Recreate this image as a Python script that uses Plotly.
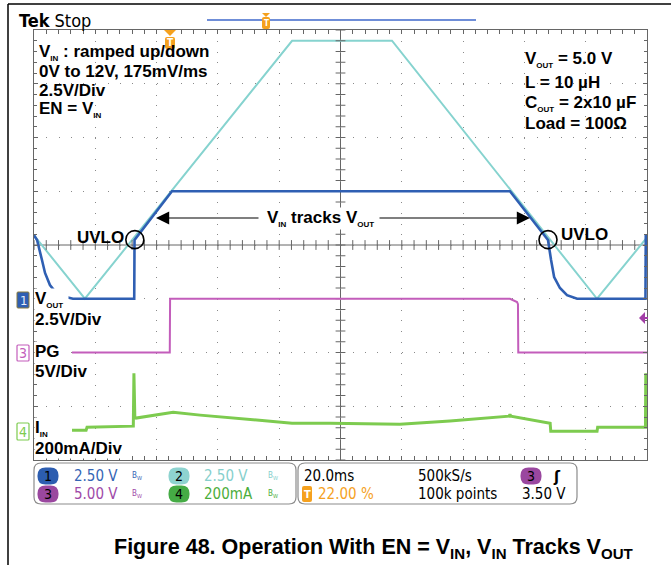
import numpy as np
import plotly.graph_objects as go

# scope settings: 20 ms/div, 10 divisions across, 8 down
t_div = 20.0

# ch2 VIN (V), ramped up/down
vin_t = [0, 16.6, 84.2, 116.8, 183.7, 200]
vin_v = [2.95, 0.0, 12.0, 12.0, 0.0, 2.85]

# ch1 VOUT (V)
vout_t = [0, 1.0, 2.6, 3.6, 5.2, 7.8, 12.7, 32.7, 32.8, 45.0, 155.3, 167.7,
          168.7, 169.7, 171.6, 173.9, 177.2, 199.5, 199.6, 200]
vout_v = [2.95, 2.73, 1.80, 1.20, 0.64, 0.17, 0.0, 0.0, 2.73, 5.0, 5.0, 2.73,
          1.80, 1.01, 0.50, 0.17, 0.0, 0.0, 2.9, 2.9]

# ch3 PG (V)
pg_t = [12.4, 44.3, 44.4, 155.3, 157.6, 157.9, 158.0, 200]
pg_v = [0, 0, 5.0, 5.0, 4.7, 4.5, 0, 0]

# ch4 IIN (mA)
iin_t = [12.4, 17.0, 17.3, 32.4, 32.6, 32.9, 33.3, 45.4, 54.2, 70.5, 84.2,
         96.6, 119.4, 135.7, 155.0, 155.3, 155.6, 168.4, 168.6, 183.7, 183.9,
         199.5, 199.6]
iin_v = [11, 11, 22, 26, 223, 60, 56, 78, 67, 52, 37,
         37, 33, 45, 63, 70, 63, 37, 7, 7, 22,
         22, 223]

uvlo_t = [32.9, 167.7]
uvlo_v = 2.75

W, H = 671, 565
GX0, GX1, GY0, GY1 = 34, 647, 30, 460


def px(x):
    return x / W


def py(y):
    return 1 - y / H


def rrect(x0, y0, x1, y1, r):
    a, b, c, d = px(x0), px(x1), py(y0), py(y1)
    rx, ry = r / W, r / H
    return (f"M{a+rx},{c} L{b-rx},{c} Q{b},{c} {b},{c-ry} L{b},{d+ry} "
            f"Q{b},{d} {b-rx},{d} L{a+rx},{d} Q{a},{d} {a},{d+ry} "
            f"L{a},{c-ry} Q{a},{c} {a+rx},{c} Z")


BLUE = "#2f5fb3"
CYAN = "#86d3cf"
MAG = "#c35dbb"
GRN = "#7dcb4f"
ORG = "#f5a11e"
GRAT = "#666666"

fig = go.Figure()

fig.add_trace(go.Scatter(x=vin_t, y=vin_v, mode="lines", yaxis="y",
                         line=dict(color=CYAN, width=2)))
fig.add_trace(go.Scatter(x=vout_t, y=vout_v, mode="lines", yaxis="y2",
                         line=dict(color=BLUE, width=2.6)))
fig.add_trace(go.Scatter(x=pg_t, y=pg_v, mode="lines", yaxis="y3",
                         line=dict(color=MAG, width=2)))
fig.add_trace(go.Scatter(x=iin_t, y=iin_v, mode="lines", yaxis="y4",
                         line=dict(color=GRN, width=3)))

# centre-line ticks of the graticule (centre is 2.5 V on the ch1 scale)
fig.add_trace(go.Scatter(x=np.arange(0, 200.1, t_div / 5), y=[2.5] * 51,
                         mode="markers", yaxis="y", hoverinfo="skip",
                         marker=dict(symbol="line-ns", size=7,
                                     line=dict(color=GRAT, width=1))))
fig.add_trace(go.Scatter(x=[100.0] * 41, y=np.arange(-7.5, 12.6, 0.5),
                         mode="markers", yaxis="y", hoverinfo="skip",
                         marker=dict(symbol="line-ew", size=7,
                                     line=dict(color=GRAT, width=1))))

shapes = []
# centre cross
shapes.append(dict(type="line", xref="x", yref="paper", x0=100, x1=100,
                   y0=py(GY1), y1=py(GY0), line=dict(color=GRAT, width=1),
                   layer="below"))
shapes.append(dict(type="line", xref="paper", yref="y", x0=px(GX0),
                   x1=px(GX1), y0=2.5, y1=2.5, line=dict(color=GRAT, width=1),
                   layer="below"))
# UVLO circles
for t in uvlo_t:
    shapes.append(dict(type="circle", xref="x", yref="y2", xsizemode="pixel",
                       ysizemode="pixel", xanchor=t, yanchor=uvlo_v,
                       x0=-9, x1=9, y0=-9, y1=9,
                       line=dict(color="black", width=1.6)))
# outer frame
shapes.append(dict(type="line", xref="paper", yref="paper", x0=px(8), x1=1,
                   y0=py(4), y1=py(4), line=dict(color="black", width=1.5)))
shapes.append(dict(type="line", xref="paper", yref="paper", x0=px(8),
                   x1=px(8), y0=py(4), y1=0,
                   line=dict(color="black", width=1.5)))
# top record bar and markers
shapes.append(dict(type="line", xref="paper", yref="paper", x0=px(207),
                   x1=px(476), y0=py(20), y1=py(20),
                   line=dict(color="#6f8ed8", width=2)))
shapes.append(dict(type="path", xref="paper", yref="paper",
                   path=f"M{px(262)},{py(13)} L{px(270)},{py(13)} L{px(266)},{py(17)} Z",
                   fillcolor=ORG, line=dict(width=0)))
shapes.append(dict(type="path", xref="paper", yref="paper",
                   path=rrect(262, 17, 270, 29, 2), fillcolor=ORG,
                   line=dict(width=0)))
shapes.append(dict(type="path", xref="paper", yref="paper",
                   path=f"M{px(164)},{py(30)} L{px(176)},{py(30)} L{px(170)},{py(36)} Z",
                   fillcolor=ORG, line=dict(width=0)))
shapes.append(dict(type="path", xref="paper", yref="paper",
                   path=rrect(165, 37, 175, 49, 2), fillcolor=ORG,
                   line=dict(width=0)))
# trigger level arrow on the right
shapes.append(dict(type="path", xref="paper", yref="paper",
                   path=f"M{px(639)},{py(318)} L{px(645)},{py(312)} L{px(645)},{py(324)} Z",
                   fillcolor="#a33fa8", line=dict(width=0)))
shapes.append(dict(type="line", xref="paper", yref="paper", x0=px(644),
                   x1=px(648), y0=py(318), y1=py(318),
                   line=dict(color="#a33fa8", width=2)))
# channel markers on the left
shapes.append(dict(type="path", xref="paper", yref="paper",
                   path=rrect(17, 292, 29, 308, 1), fillcolor=BLUE,
                   line=dict(color="#8a7a3a", width=1)))
shapes.append(dict(type="path", xref="paper", yref="paper",
                   path=rrect(17, 345, 29, 361, 1), fillcolor="white",
                   line=dict(color=MAG, width=1.2)))
shapes.append(dict(type="path", xref="paper", yref="paper",
                   path=rrect(17, 423, 29, 440, 1), fillcolor="white",
                   line=dict(color=GRN, width=1.2)))
# status boxes
shapes.append(dict(type="path", xref="paper", yref="paper",
                   path=rrect(34, 463, 296, 504, 7), fillcolor="white",
                   line=dict(color="#8c8c8c", width=1.2)))
shapes.append(dict(type="path", xref="paper", yref="paper",
                   path=rrect(298, 463, 577, 504, 7), fillcolor="white",
                   line=dict(color="#8c8c8c", width=1.2)))
for cx, cy, col in [(48, 476, "#2c5db0"), (48, 494, "#9a479f"),
                    (179, 476, "#8ed3d0"), (179, 494, "#45ab45"),
                    (531, 476, "#9a479f")]:
    shapes.append(dict(type="path", xref="paper", yref="paper",
                       path=rrect(cx - 10.5, cy - 8.5, cx + 10.5, cy + 8.5, 8),
                       fillcolor=col, line=dict(width=0)))
shapes.append(dict(type="path", xref="paper", yref="paper",
                   path=rrect(302, 486, 312, 502, 2), fillcolor=ORG,
                   line=dict(width=0)))

ann = []
BF = "Liberation Sans, Arial, sans-serif"
NF = "Liberation Sans Narrow, DejaVu Sans Condensed, Arial Narrow, sans-serif"
SUB = "<sub><span style='font-size:8px'>{}</span></sub>"


def txt(x, y, s, size=15, color="black", family=BF, weight="bold",
        xanchor="left", bg=None):
    d = dict(x=px(x), y=py(y), xref="paper", yref="paper", text=s,
             showarrow=False, xanchor=xanchor, yanchor="middle",
             font=dict(family=family, size=size, color=color, weight=weight))
    if bg:
        d["bgcolor"] = bg
        d["borderpad"] = 0
    ann.append(d)


txt(37, 52, "V" + SUB.format("IN") + " : ramped up/down", 17)
txt(37, 71, "0V to 12V, 175mV/ms", 17)
txt(37, 91, "2.5V/Div", 17)
txt(37, 110, "EN = V" + SUB.format("IN"), 17)

txt(523, 60, "V" + SUB.format("OUT") + " = 5.0 V", 17)
txt(523, 82, "L = 10 \u00b5H", 17)
txt(523, 103, "C" + SUB.format("OUT") + " = 2x10 \u00b5F", 17)
txt(523, 124, "Load = 100\u03a9", 17)

txt(75, 237, "UVLO", 17)
txt(559, 234, "UVLO", 17)
txt(266, 218, "V" + SUB.format("IN") + " tracks V" + SUB.format("OUT"), 17,
    bg="white")

txt(34, 299, "V" + SUB.format("OUT") + " ", 17, bg="white")
txt(34, 319, "2.5V/Div", 17, bg="white")
txt(34, 351, "PG  ", 17, bg="white")
txt(34, 371, "5V/Div", 17, bg="white")
txt(34, 428, "I" + SUB.format("IN") + "     ", 17, bg="white")
txt(34, 448, "200mA/Div", 17, bg="white")

txt(23, 300, "1", 13, "#e8eef8", NF, "normal", "center")
txt(23, 353, "3", 14, MAG, NF, "normal", "center")
txt(23, 432, "4", 14, GRN, NF, "normal", "center")

# arrows
for tip, tail in [(156, 260), (530, 378)]:
    ann.append(dict(x=px(tip), y=py(218), xref="paper", yref="paper",
                    ax=tail - tip, ay=0, text="", showarrow=True,
                    arrowhead=2, arrowsize=2.2, arrowwidth=1.2,
                    arrowcolor="black"))

txt(17, 20, "<b>Tek</b> Stop", 18, "black", NF, "normal")
txt(170, 43, "T", 10, "white", NF, "bold", "center")
txt(266, 23, "T", 8, "white", NF, "bold", "center")

# status bar text
txt(48, 476, "1", 14, "black", NF, "normal", "center")
txt(48, 494, "3", 14, "black", NF, "normal", "center")
txt(179, 476, "2", 14, "black", NF, "normal", "center")
txt(179, 494, "4", 14, "black", NF, "normal", "center")
txt(72, 476, "2.50 V", 15, "#3565b5", NF, "normal")
txt(72, 494, "5.00 V", 15, "#a04aa8", NF, "normal")
txt(202, 476, "2.50 V", 15, "#86cfcc", NF, "normal")
txt(202, 494, "200mA", 15, "#4cae3c", NF, "normal")
for bx, by, col in [(130, 476, "#3565b5"), (130, 494, "#a04aa8"),
                    (266, 476, "#86cfcc"), (266, 494, "#4cae3c")]:
    txt(bx, by, "B<sub>W</sub>", 8, col, NF, "normal")
txt(302, 476, "20.0ms", 15, "black", NF, "normal")
txt(416, 476, "500kS/s", 15, "black", NF, "normal")
txt(531, 476, "3", 14, "black", NF, "normal", "center")
txt(557, 476, "\u0283", 16, "black", NF, "bold", "center")
txt(307, 494, "T", 11, "white", NF, "bold", "center")
txt(316, 494, "22.00 %", 15, ORG, NF, "normal")
txt(416, 494, "100k points", 15, "black", NF, "normal")
txt(568, 494, "3.50 V", 15, "black", NF, "normal", "right")

txt(374, 548, "Figure 48. Operation With EN = V<sub>IN</sub>, V<sub>IN</sub> "
    "Tracks V<sub>OUT</sub>", 21.5, "black", BF, "bold", "center")

common = dict(showline=True, linecolor=GRAT, linewidth=1, mirror="allticks",
              ticks="inside", ticklen=4, tickcolor=GRAT, tickwidth=1,
              showticklabels=False, zeroline=False, fixedrange=True)

fig.update_layout(
    width=W, height=H, autosize=False,
    margin=dict(l=0, r=0, t=0, b=0),
    paper_bgcolor="white", plot_bgcolor="white",
    showlegend=False,
    xaxis=dict(domain=[px(GX0), px(GX1)], range=[0, 200], tick0=0,
               dtick=t_div, showgrid=True, gridcolor="#8a8a8a", gridwidth=1,
               griddash="1px,9.75px",
               minor=dict(dtick=t_div / 5, ticks="inside", ticklen=3,
                          tickcolor=GRAT, showgrid=False),
               **common),
    yaxis=dict(domain=[py(GY1), py(GY0)], range=[-7.5, 12.5], tick0=0,
               dtick=2.5, showgrid=True, gridcolor="#8a8a8a", gridwidth=1,
               griddash="1px,11.26px",
               minor=dict(dtick=0.5, ticks="inside", ticklen=3,
                          tickcolor=GRAT, showgrid=False),
               **common),
    yaxis2=dict(overlaying="y", range=[-7.5, 12.5], visible=False,
                fixedrange=True),
    yaxis3=dict(overlaying="y", range=[-10, 30], visible=False,
                fixedrange=True),
    yaxis4=dict(overlaying="y", range=[-100, 1500], visible=False,
                fixedrange=True),
    shapes=shapes,
    annotations=ann,
)

# the page body has a default 8px margin; drop it so the figure sits at 0,0
fig.write_html("out.html", config={"displayModeBar": False},
               post_script="document.body.style.margin='0';"
                           "document.body.style.overflow='hidden';")
